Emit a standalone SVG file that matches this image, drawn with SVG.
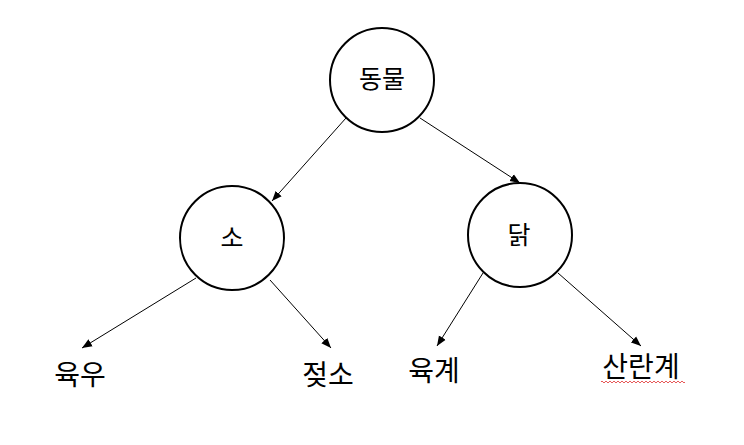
<svg xmlns="http://www.w3.org/2000/svg" width="744" height="445" viewBox="0 0 744 445">
<style>
.node circle{fill:#fff;stroke:#000;stroke-width:2}
text{font-family:"Noto Sans CJK KR","Noto Sans",sans-serif;fill:#000;text-anchor:middle}
.small{font-size:25px}
.leaf{font-size:28px}
.edge{stroke:#000;stroke-width:1;fill:none;marker-end:url(#arr)}
</style>
<defs>
<marker id="arr" viewBox="0 0 10 10" refX="10" refY="5" markerWidth="10" markerHeight="10" markerUnits="userSpaceOnUse" orient="auto">
<path d="M0,1 L10,5 L0,9 Z" fill="#000"/>
</marker>
<pattern id="squig" width="4" height="4" patternUnits="userSpaceOnUse">
<path d="M0,3 L2,1 L4,3" stroke="#e03030" stroke-width="0.8" fill="none"/>
</pattern>
</defs>
<g id="connectors">
<line class="edge" x1="346" y1="118" x2="272" y2="201"/>
<line class="edge" x1="420" y1="118" x2="520" y2="183"/>
<line class="edge" x1="196" y1="278" x2="82" y2="348"/>
<line class="edge" x1="270" y1="280" x2="331" y2="348"/>
<line class="edge" x1="483" y1="273" x2="437" y2="346"/>
<line class="edge" x1="558" y1="273" x2="641" y2="346"/>
</g>
<g id="n-animal" class="node">
<circle cx="382" cy="80" r="52"/>
<text class="small" x="382" y="88">동물</text>
</g>
<g id="n-cow" class="node">
<circle cx="232" cy="238" r="52"/>
<text class="small" x="232" y="247">소</text>
</g>
<g id="n-chicken" class="node">
<circle cx="520" cy="235" r="52"/>
<text class="small" x="519" y="244">닭</text>
</g>
<g id="n-beefcattle">
<text class="leaf" x="80" y="385">육우</text>
</g>
<g id="n-dairycow">
<text class="leaf" x="328" y="385">젖소</text>
</g>
<g id="n-broiler">
<text class="leaf" x="434" y="381">육계</text>
</g>
<g id="n-layer">
<text class="leaf" x="641" y="377">산란계</text>
<rect x="601" y="380" width="84" height="4" fill="url(#squig)"/>
</g>
</svg>
